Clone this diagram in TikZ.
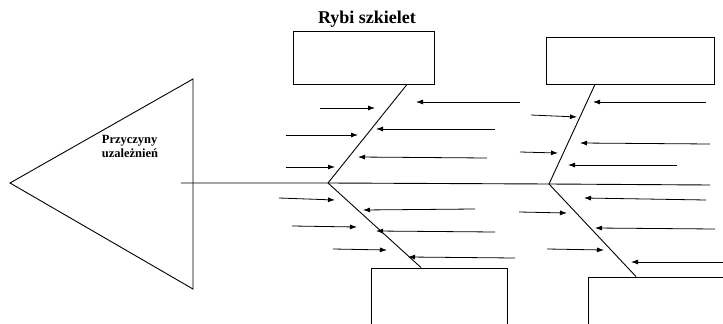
\documentclass[tikz,border=0pt]{standalone}
\usepackage{fontspec}
\setmainfont{Liberation Serif}
\usetikzlibrary{arrows.meta}
\begin{document}
\begin{tikzpicture}[x=1pt,y=-1pt,
    linia/.style={line width=0.9pt},
    strzalka/.style={line width=0.8pt,-{Latex[length=7pt,width=5pt]}},
    pole/.style={draw,line width=0.9pt,inner sep=0pt}]
    \clip (0,0) rectangle (723,324);

    % glowa ryby
    \coordinate (nos) at (10,183);
    \coordinate (gorna) at (193,79);
    \coordinate (dolna) at (193,289);
    \draw[linia] (nos) -- (gorna) -- (dolna) -- cycle;
    \node[font=\fontsize{12.5}{14}\selectfont\bfseries,align=left] (przyczyny) at (130,146) {Przyczyny\\uzależnień};

    \node[font=\fontsize{18}{20}\selectfont\bfseries] (tytul) at (367,19) {Rybi szkielet};

    % kregoslup
    \coordinate (ogon) at (181,183);
    \coordinate (koniec) at (710,185);
    \coordinate (osA) at (328,183);
    \coordinate (osB) at (549,184);
    \draw[linia] (ogon) -- (osA) -- (osB) -- (koniec);

    % pola
    \node[pole,minimum width=141pt,minimum height=53pt] (poleA) at (363.5,57.5) {};
    \node[pole,minimum width=168pt,minimum height=47pt] (poleB) at (630,60.5) {};
    \node[pole,minimum width=136pt,minimum height=72pt] (poleC) at (439,304) {};
    \node[pole,minimum width=152pt,minimum height=63pt] (poleD) at (664,308.5) {};

    % osci
    \draw[linia] (osA) -- (poleA.south -| 407,0);
    \draw[linia] (osA) -- (poleC.north -| 421,0);
    \draw[linia] (osB) -- (poleB.south -| 595,0);
    \draw[linia] (osB) -- (poleD.north -| 636,0);

    % strzalki
    \foreach \x/\y/\u/\v in {320/108/375/108, 286/135/358/135, 286/167/335/167,
        520/102/416/102, 495/129/376/129, 487/158/358/157,
        279/198/335/200, 292/226/357/227, 333/249/387/250,
        475/209/363/210, 495/232/376/231, 515/258/408/257,
        531/115/577/117, 520/152/558/153,
        706/102/593/102, 710/144/580/143, 677/165/568/165,
        519/212/567/213, 547/249/604/250,
        706/200/584/198, 715/229/595/228, 723/262/631/262}
        \draw[strzalka] (\x,\y) -- (\u,\v);
\end{tikzpicture}
\end{document}
